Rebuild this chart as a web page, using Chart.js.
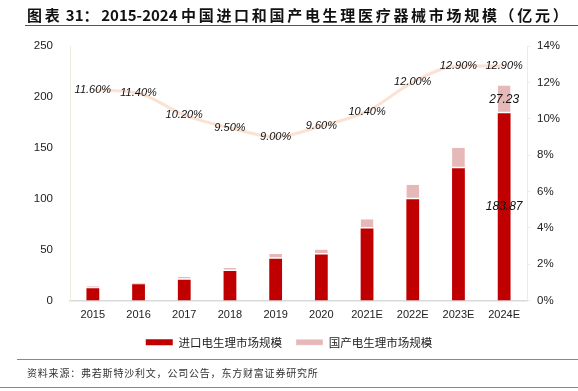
<!DOCTYPE html>
<html>
<head>
<meta charset="utf-8">
<script src="https://cdn.jsdelivr.net/npm/chart.js@4/dist/chart.umd.min.js"></script>
<style>
  html, body { margin: 0; padding: 0; background: #fff; }
  #wrap { position: relative; width: 578px; height: 391px; overflow: hidden; }
  #chart { position: absolute; left: 0; top: 0; }
  .title {
    position: absolute; left: 27px; top: 4px; white-space: nowrap;
    font-family: "Noto Sans CJK SC", sans-serif; font-weight: bold; font-size: 15px; color: #111;
  }
  .title .cjk { letter-spacing: 2.7px; }
  .rule { position: absolute; left: 25px; right: 0; height: 0; border-top: 1.5px solid #555; }
  .source {
    position: absolute; left: 27px; top: 365px; white-space: nowrap;
    font-family: "Noto Sans CJK SC", sans-serif; font-size: 10px; letter-spacing: 0.8px; color: #333;
  }
</style>
</head>
<body>
<div id="wrap">
  <canvas id="chart" width="578" height="391"></canvas>
  <div class="title"><span class="cjk">图表</span> 31<span class="cjk">：</span>2015-2024 <span class="cjk">中国进口和国产电生理医疗器械市场规模（亿元）</span></div>
  <div class="rule" style="top:25px"></div>
  <div class="rule" style="top:359px; left:17px; border-color:#888"></div>
  <div class="source">资料来源：弗若斯特沙利文，公司公告，东方财富证券研究所</div>
  <div class="rule" style="top:387px; left:0; border-color:#888"></div>
</div>
<script>
// 年份
var years = ["2015", "2016", "2017", "2018", "2019", "2020", "2021E", "2022E", "2023E", "2024E"];
// 进口电生理市场规模（亿元）
var importSize = [12, 16, 20.5, 29, 41, 45.3, 70.7, 99.5, 130, 183.87];
// 国产电生理市场规模（亿元）
var domesticSize = [2, 1.5, 2.5, 3, 4.6, 4.7, 9, 14.3, 20, 27.23];
// 国产占比 (%)
var domesticShare = [11.6, 11.4, 10.2, 9.5, 9.0, 9.6, 10.4, 12.0, 12.9, 12.9];

var labelFont = "italic 11px 'Liberation Sans', Arial, sans-serif";

// draws the value labels (no datalabels plugin in the sandbox)
var valueLabels = {
  id: "valueLabels",
  afterDatasetsDraw: function (chart) {
    var ctx = chart.ctx;
    ctx.save();
    ctx.fillStyle = "#111";
    ctx.textAlign = "center";
    ctx.textBaseline = "middle";

    // line labels, centred on the points
    ctx.font = labelFont;
    var lineMeta = chart.getDatasetMeta(2);
    lineMeta.data.forEach(function (pt, i) {
      ctx.fillText(domesticShare[i].toFixed(2) + "%", pt.x, pt.y);
    });

    // only the last bar has labels
    ctx.font = "italic 12px 'Liberation Sans', Arial, sans-serif";
    var last = years.length - 1;
    [0, 1].forEach(function (d) {
      var bar = chart.getDatasetMeta(d).data[last];
      var v = chart.data.datasets[d].data[last];
      ctx.fillText(v.toFixed(2), bar.x, (bar.y + bar.base) / 2);
    });
    ctx.restore();
  },
};

const config = {
  type: "bar",
  data: {
    labels: years,
    datasets: [
      {
        label: "进口电生理市场规模",
        data: importSize,
        backgroundColor: "#C00000",
        stack: "s",
        yAxisID: "y",
        order: 2,
        barPercentage: 0.56,
        categoryPercentage: 0.5,
      },
      {
        label: "国产电生理市场规模",
        data: domesticSize,
        backgroundColor: "#E6B9B8",
        borderColor: "#ffffff",
        borderWidth: { top: 0, left: 0, right: 0, bottom: 1.5 },
        borderSkipped: false,
        stack: "s",
        yAxisID: "y",
        order: 2,
        barPercentage: 0.56,
        categoryPercentage: 0.5,
      },
      {
        type: "line",
        label: "share",
        data: domesticShare,
        yAxisID: "y1",
        borderColor: "#FBE2D2",
        borderWidth: 3,
        pointRadius: 0,
        tension: 0.4,
        cubicInterpolationMode: "monotone",
        order: 1,
      },
    ],
  },
  options: {
    responsive: false,
    animation: false,
    layout: { padding: { top: 46, bottom: 33, left: 0, right: 0 } },
    plugins: {
      legend: {
        position: "bottom",
        maxHeight: 40,
        labels: {
          filter: function (item) { return item.datasetIndex < 2; },
          boxWidth: 27,
          boxHeight: 6,
          padding: 14,
          color: "#222",
          font: { family: "'Noto Sans CJK SC', sans-serif", size: 11.5 },
        },
      },
      tooltip: { enabled: false },
    },
    scales: {
      x: {
        stacked: true,
        grid: { display: false, drawTicks: false },
        border: { color: "#D9D9D9", width: 1.5 },
        ticks: { color: "#222", padding: 8, font: { family: "'Liberation Sans', Arial, sans-serif", size: 11 } },
        afterFit: function (scale) { scale.height = 22; },
      },
      y: {
        stacked: true,
        min: 0,
        max: 250,
        position: "left",
        grid: { display: false, drawTicks: false },
        border: { color: "#EFEBE3", width: 1 },
        ticks: { stepSize: 50, color: "#222", padding: 17, font: { family: "'Liberation Sans', Arial, sans-serif", size: 11.5 } },
        afterFit: function (scale) { scale.width = 70; },
      },
      y1: {
        min: 0,
        max: 14,
        position: "right",
        grid: { drawOnChartArea: false, drawTicks: true, tickLength: 3, color: "#EFEBE3" },
        border: { color: "#EFEBE3", width: 1 },
        ticks: {
          stepSize: 2,
          color: "#222",
          padding: 7,
          font: { family: "'Liberation Sans', Arial, sans-serif", size: 11.5 },
          callback: function (v) { return v + "%"; },
        },
        afterFit: function (scale) { scale.width = 51; },
      },
    },
  },
  plugins: [valueLabels],
};

new Chart(document.getElementById("chart"), config);
</script>
</body>
</html>
